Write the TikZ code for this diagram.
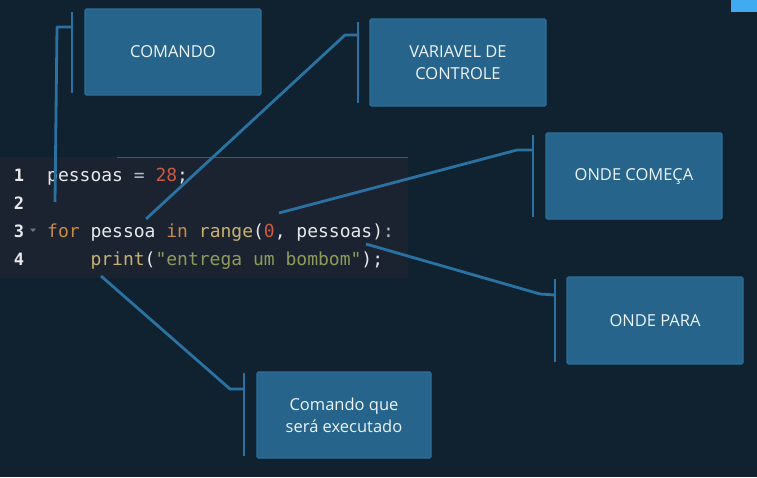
\documentclass[tikz,border=0pt]{standalone}
\usepackage{fontspec}
\setmainfont{Open Sans}
\newfontfamily\codefont{DejaVu Sans Mono}
\definecolor{bgc}{HTML}{10212F}
\definecolor{panelc}{HTML}{1C2330}
\definecolor{boxfill}{HTML}{26648C}
\definecolor{boxedge}{HTML}{2D709C}
\definecolor{linec}{HTML}{2A72A2}
\definecolor{kwc}{HTML}{C68A45}
\definecolor{fnc}{HTML}{C9B173}
\definecolor{numc}{HTML}{CC5A40}
\definecolor{strc}{HTML}{8E9B5C}
\definecolor{idc}{HTML}{E6E8EA}
\definecolor{opc}{HTML}{B8BEC6}
\definecolor{rulec}{HTML}{4E5763}
\definecolor{cornerc}{HTML}{42AAF0}
\tikzset{
  infobox/.style={draw=boxedge, line width=1.2pt, fill=boxfill, rounded corners=1.5pt,
    text=white!92!boxfill, align=center, font=\fontsize{16.5}{22}\selectfont, inner sep=0pt},
  bracket/.style={linec, line width=2.8pt},
  leader/.style={linec, line width=2.8pt, line join=round},
  codeline/.style={anchor=base west, inner sep=0pt, font=\codefont\fontsize{18}{18}\selectfont, text=idc},
  lineno/.style={anchor=base, inner sep=0pt, font=\codefont\bfseries\fontsize{17}{17}\selectfont, text=idc}
}
\begin{document}
\begin{tikzpicture}[x=1pt,y=-1pt]
\useasboundingbox (0,0) rectangle (757,477);
\fill[bgc] (0,0) rectangle (757,477);
\fill[cornerc] (731,0) rectangle (757,12);
% code panel
\fill[panelc] (0,157) rectangle (408,278);
\draw[rulec, line width=1pt] (117,157.5) -- (408,157.5);
\node[lineno] (n1) at (19,181) {1};
\node[lineno] (n2) at (19,209) {2};
\node[lineno] (n3) at (19,237) {3};
\node[lineno] (n4) at (19,265) {4};
\fill[opc!55!panelc] (30,228.5) -- (36,228.5) -- (33,232) -- cycle;
\node[codeline] (c1) at (47,181) {pessoas \textcolor{opc}{=} \textcolor{numc}{28};};
\node[codeline] (c3) at (47,237) {\textcolor{kwc}{for} pessoa \textcolor{kwc}{in} \textcolor{fnc}{range}(\textcolor{numc}{0}, pessoas)\textcolor{opc}{:}};
\node[codeline] (c4) at (47,265) {\phantom{xxxx}\textcolor{fnc}{print}(\textcolor{strc}{"entrega um bombom"});};
% boxes
\node[infobox, minimum width=176pt, minimum height=86pt] (b1) at (173,52) {COMANDO};
\node[infobox, minimum width=176pt, minimum height=87pt] (b2) at (458,62.5) {VARIAVEL DE\\CONTROLE};
\node[infobox, minimum width=176pt, minimum height=86pt] (b3) at (634,176) {ONDE COMEÇA};
\node[infobox, minimum width=176pt, minimum height=87pt] (b4) at (655,320.5) {ONDE PARA};
\node[infobox, minimum width=174pt, minimum height=86pt] (b5) at (344,415) {Comando que\\será executado};
% bracket coordinates
\coordinate (t1a) at (72,12);   \coordinate (t1b) at (72,93);
\coordinate (t2a) at (358,22);  \coordinate (t2b) at (358,103);
\coordinate (t3a) at (533,135); \coordinate (t3b) at (533,217);
\coordinate (t4a) at (555,279); \coordinate (t4b) at (555,362);
\coordinate (t5a) at (244,373); \coordinate (t5b) at (244,456);
\draw[bracket] (t1a) -- (t1b);
\draw[bracket] (t2a) -- (t2b);
\draw[bracket] (t3a) -- (t3b);
\draw[bracket] (t4a) -- (t4b);
\draw[bracket] (t5a) -- (t5b);
% leader ends
\coordinate (e1) at (55,202);
\coordinate (e2) at (146,219);
\coordinate (e3) at (279,213);
\coordinate (e4) at (366,244);
\coordinate (e5) at (101,276);
\draw[leader] (72,27) -- (57,27) -- (e1);
\draw[leader] (358,35) -- (345,35) -- (e2);
\draw[leader] (533,150) -- (517,150) -- (e3);
\draw[leader] (555,295) -- (540,294) -- (e4);
\draw[leader] (244,389) -- (230,389) -- (e5);
\end{tikzpicture}
\end{document}
